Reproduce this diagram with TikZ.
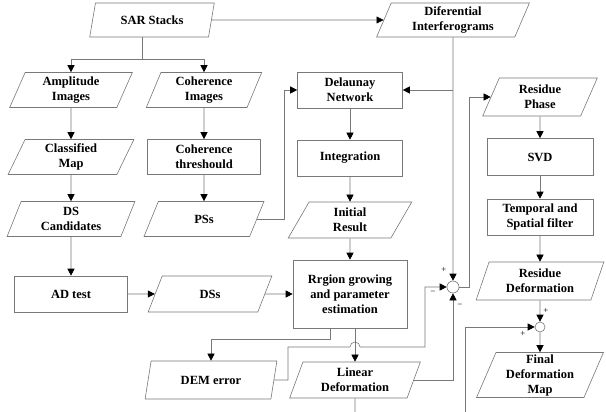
\documentclass[tikz,border=0pt]{standalone}
\usepackage{fontspec}
\setmainfont{Liberation Serif}
\usetikzlibrary{shapes.geometric,arrows.meta}
\definecolor{lc}{RGB}{120,120,120}
\newcommand{\tfont}{\fontsize{12.5}{15}\selectfont\bfseries}
\newcommand{\sgnfont}{\fontsize{9}{10}\selectfont}
\tikzset{
  ln/.style={draw=lc, line width=0.6pt},
  arr/.style={ln, -{Triangle[length=7pt,width=7pt,black]}},
  box/.style={rectangle, draw=lc, line width=0.6pt, align=center, inner sep=0pt, font=\tfont},
  io/.style={trapezium, trapezium left angle=70, trapezium right angle=110,
    trapezium stretches=true, draw=lc, line width=0.6pt, align=center, inner sep=0pt, font=\tfont},
  sumc/.style={circle, draw=lc, line width=0.6pt, inner sep=0pt},
  sgn/.style={font=\sgnfont, inner sep=0pt},
}
\begin{document}
\begin{tikzpicture}[x=1pt,y=-1pt]
\useasboundingbox (0,0) rectangle (606,412);
% nodes
\node[io, minimum width=125pt, minimum height=34pt] (sar) at (152,20) {SAR Stacks};
\node[io, minimum width=153pt, minimum height=34pt] (dif) at (453,20) {Diferential\\Interferograms};
\node[io, minimum width=123pt, minimum height=35pt] (amp) at (71,90) {Amplitude\\Images};
\node[io, minimum width=116pt, minimum height=35pt] (cohi) at (204,90) {Coherence\\Images};
\node[io, minimum width=126pt, minimum height=35pt] (cls) at (71,157) {Classified\\Map};
\node[box, minimum width=113pt, minimum height=35pt] (cth) at (204,157) {Coherence\\threshould};
\node[io, minimum width=128pt, minimum height=35pt] (dsc) at (71,219) {DS\\Candidates};
\node[io, minimum width=120pt, minimum height=35pt] (pss) at (204,219) {PSs};
\node[box, minimum width=113pt, minimum height=36pt] (adt) at (71,294) {AD test};
\node[io, minimum width=124pt, minimum height=36pt] (dss) at (210,294) {DSs};
\node[io, minimum width=132pt, minimum height=38pt] (dem) at (211,380) {DEM error};
\node[box, minimum width=105pt, minimum height=36pt] (del) at (350,90) {Delaunay\\Network};
\node[box, minimum width=105pt, minimum height=36pt] (int) at (350,158) {Integration};
\node[io, minimum width=124pt, minimum height=36pt] (ini) at (350,220) {Initial\\Result};
\node[box, minimum width=114pt, minimum height=68pt] (rg) at (350,294) {Rrgion growing\\and parameter\\estimation};
\node[io, minimum width=131pt, minimum height=36pt] (lin) at (355,380) {Linear\\Deformation};
\node[io, minimum width=115pt, minimum height=38pt] (rph) at (540,97) {Residue\\Phase};
\node[box, minimum width=106pt, minimum height=37pt] (svd) at (540,157) {SVD};
\node[box, minimum width=106pt, minimum height=36pt] (tsf) at (540,217) {Temporal and\\Spatial filter};
\node[io, minimum width=128pt, minimum height=38pt] (rdf) at (540,281) {Residue\\Deformation};
\node[sumc, minimum size=12pt] (s1) at (453,287) {};
\node[sumc, minimum size=10pt] (s2) at (540,327) {};
\node[io, minimum width=128pt, minimum height=45pt] (fdm) at (540,375) {Final\\Deformation\\Map};
% signs
\node[sgn] (p1) at (444,270) {+};
\node[sgn] (m1) at (433,293) {−};
\node[sgn] (m2) at (460,306) {−};
\node[sgn] (p2) at (546,311) {+};
\node[sgn] (p3) at (523,334) {+};
% helper coordinates
\coordinate (j0) at (142,59);
\coordinate (jr) at (330,339);
\coordinate (h1) at (288,347);
\coordinate (h2) at (425,347);
\coordinate (b1) at (355,412);
\coordinate (b2) at (465,412);
% connectors
\draw[ln] (j0 |- sar.south) -- (j0);
\draw[arr] (j0) -| (amp.north);
\draw[arr] (j0) -| (cohi.north);
\draw[arr] (sar.east) -- (dif.west);
\draw[arr] (amp.south) -- (cls.north);
\draw[arr] (cls.south) -- (dsc.north);
\draw[arr] (dsc.south) -- (adt.north);
\draw[arr] (cohi.south) -- (cth.north);
\draw[arr] (cth.south) -- (pss.north);
\draw[arr] (adt.east) -- (dss.west);
\draw[arr] (dss.east) -- (rg.west);
\draw[arr] (pss.east) -- ++(27,0) |- (del.west);
\draw[arr] (dif.south) -- (s1.north);
\draw[arr] (dif.south |- del.east) -- (del.east);
\draw[arr] (del.south) -- (int.north);
\draw[arr] (int.south) -- (ini.north);
\draw[arr] (ini.south) -- (rg.north);
\draw[arr] (rg.south -| lin.north) -- (lin.north);
\draw[arr] (rg.south -| jr) -- (jr) -| (dem.north);
\draw[arr] (dem.east) -| (h1) -- ([xshift=-5pt]h1 -| lin.north)
  arc[start angle=180, end angle=0, radius=5pt] -- (h2) |- (s1.west);
\draw[arr] (lin.east) -| (s1.south);
\draw[arr] (s1.east) -- ++(10,0) |- (rph.west);
\draw[arr] (rph.south) -- (svd.north);
\draw[arr] (svd.south) -- (tsf.north);
\draw[arr] (tsf.south) -- (rdf.north);
\draw[arr] (rdf.south) -- (s2.north);
\draw[arr] (s2.south) -- (fdm.north);
\draw[ln] (lin.south) -- (b1);
\draw[arr] (b2) |- (s2.west);
\end{tikzpicture}
\end{document}
